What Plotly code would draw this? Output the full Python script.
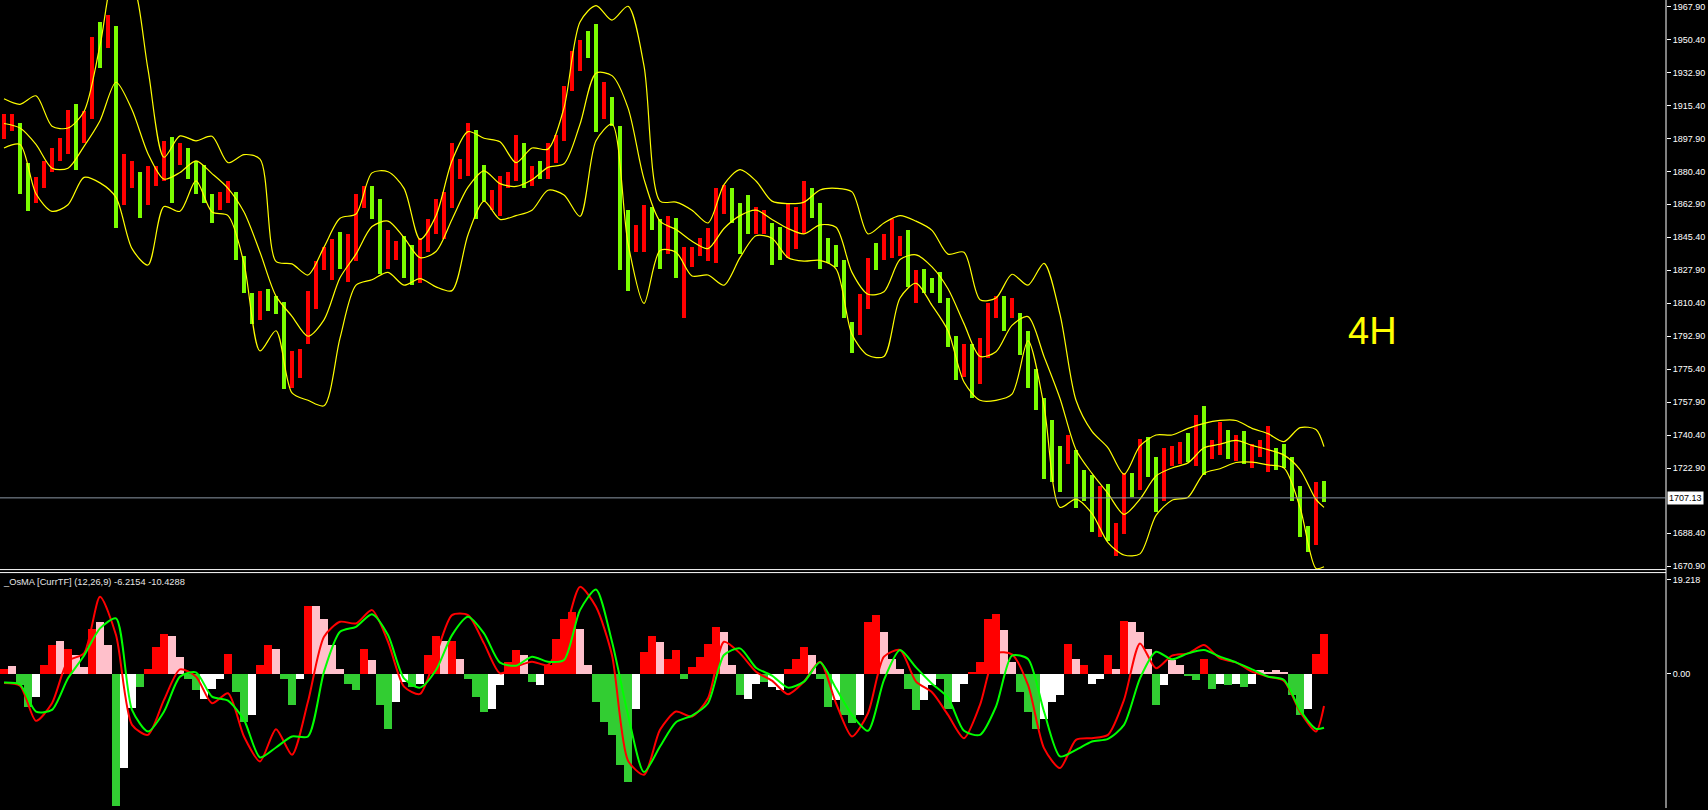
import plotly.graph_objects as go

# ---------------- price bars (each entry = one plotted bar) ----------------
bar_high = [
    1910.8, 1910.8, 1906.3, 1884.6, 1877.2, 1886.0, 1892.8, 1898.0, 1913.1, 1916.0,
    1912.2, 1951.9, 1959.7, 1963.6, 1957.8, 1889.8, 1886.0, 1880.2, 1883.1, 1883.1,
    1896.6, 1898.6, 1895.7, 1892.8, 1886.0, 1884.0, 1868.5, 1869.5, 1875.3, 1869.5,
    1835.5, 1816.1, 1817.1, 1818.1, 1814.2, 1811.3, 1785.1, 1786.1, 1817.1, 1832.6,
    1840.4, 1844.3, 1848.1, 1847.2, 1868.5, 1872.4, 1872.4, 1865.6, 1849.1, 1843.3,
    1846.2, 1841.3, 1845.2, 1854.9, 1865.6, 1869.5, 1895.7, 1887.0, 1906.3, 1902.5,
    1884.0, 1870.4, 1878.2, 1880.2, 1899.6, 1895.7, 1883.1, 1886.0, 1895.7, 1899.6,
    1925.7, 1944.2, 1950.0, 1954.9, 1958.7, 1927.7, 1919.9, 1904.4, 1859.8, 1852.0,
    1862.7, 1861.7, 1854.9, 1856.9, 1855.9, 1840.4, 1840.4, 1845.2, 1850.1, 1871.4,
    1873.4, 1871.4, 1863.7, 1867.6, 1861.7, 1859.8, 1853.0, 1851.1, 1863.7, 1861.7,
    1875.3, 1871.4, 1863.7, 1845.2, 1841.3, 1833.6, 1800.6, 1815.2, 1834.6, 1842.3,
    1847.2, 1854.9, 1846.2, 1849.1, 1827.8, 1828.8, 1823.9, 1826.8, 1813.2, 1792.9,
    1789.0, 1789.0, 1791.9, 1810.3, 1814.2, 1814.2, 1813.2, 1805.5, 1795.8, 1775.4,
    1759.9, 1748.2, 1734.6, 1740.5, 1732.7, 1722.0, 1719.1, 1713.3, 1714.3, 1693.9,
    1720.1, 1720.1, 1738.5, 1739.5, 1728.8, 1733.7, 1734.7, 1736.6, 1741.4, 1751.1,
    1756.0, 1737.6, 1747.3, 1743.4, 1740.5, 1742.4, 1735.6, 1737.6, 1745.3, 1733.7,
    1735.6, 1728.8, 1713.3, 1692.0, 1715.3, 1716.0,
]
bar_low = [
    1897.6, 1901.9, 1868.5, 1859.2, 1863.7, 1871.4, 1880.1, 1886.0, 1889.8, 1881.1,
    1895.7, 1908.3, 1935.4, 1946.1, 1850.1, 1862.7, 1871.4, 1855.9, 1862.7, 1872.4,
    1875.3, 1863.7, 1884.0, 1876.3, 1868.5, 1863.7, 1853.0, 1859.8, 1863.7, 1833.6,
    1816.1, 1799.6, 1801.6, 1806.4, 1804.5, 1764.7, 1765.7, 1770.5, 1789.0, 1807.4,
    1827.8, 1822.9, 1828.8, 1821.9, 1832.6, 1860.8, 1854.9, 1825.8, 1828.8, 1833.6,
    1823.9, 1820.0, 1821.0, 1837.5, 1847.2, 1844.3, 1860.8, 1876.3, 1878.2, 1854.9,
    1864.6, 1859.8, 1856.9, 1871.4, 1875.3, 1871.4, 1872.4, 1876.3, 1876.3, 1885.0,
    1896.6, 1922.8, 1933.5, 1940.3, 1901.5, 1908.3, 1904.4, 1827.8, 1817.1, 1837.5,
    1837.5, 1849.1, 1828.8, 1836.5, 1823.9, 1802.6, 1829.7, 1835.5, 1832.6, 1831.6,
    1857.8, 1853.0, 1836.5, 1847.2, 1847.2, 1847.2, 1830.7, 1833.6, 1834.6, 1839.4,
    1847.2, 1855.9, 1828.8, 1831.6, 1829.7, 1802.6, 1784.1, 1793.8, 1807.4, 1827.8,
    1833.6, 1834.6, 1835.5, 1819.0, 1810.3, 1816.1, 1816.1, 1810.3, 1787.0, 1769.6,
    1771.5, 1759.9, 1767.6, 1781.2, 1802.6, 1795.8, 1802.6, 1783.2, 1765.7, 1754.0,
    1717.2, 1715.3, 1710.4, 1725.0, 1701.7, 1705.6, 1689.1, 1686.2, 1684.2, 1676.5,
    1688.1, 1707.5, 1711.4, 1718.2, 1699.7, 1705.6, 1724.0, 1725.0, 1725.9, 1724.0,
    1719.1, 1727.9, 1729.8, 1727.9, 1726.9, 1725.0, 1723.0, 1728.8, 1721.1, 1722.0,
    1723.0, 1705.6, 1686.2, 1678.4, 1682.3, 1705.2,
]
# r = up bar (red), g = down bar (green)
bar_dir = ("rrggrrrrrg" "rrgrgrrgrr" "rgrggggrrg" "ggrgggrrrr" "rrgrrrggrr"
           "ggrrrrrrrg" "grrrrgrgrr" "rrrggrgggr" "rggrgrrrrr" "rgggrrggrr"
           "rggggggrrg" "rrrgrggggg" "rgrrrgrggg" "gggrgggrgr" "rgrggrrrgr"
           "grrgrgrrrg" "ggggrg")

# ---------------- Bollinger bands (read every second bar + last) ----------------
band_idx = list(range(0, 165, 2)) + [165]
bb_upper = [
    1918.9, 1916.0, 1920.5, 1904.4, 1903.4, 1912.2, 1947.1, 1986.9, 1981.0, 1934.5, 1887.9,
    1899.2, 1896.6, 1899.0, 1885.0, 1889.3, 1886.9, 1832.6, 1831.3, 1825.4, 1840.2,
    1855.5, 1857.8, 1879.6, 1880.2, 1871.4, 1844.3, 1856.9, 1886.0, 1901.5, 1898.0, 1896.1,
    1885.0, 1892.8, 1892.2, 1914.1, 1959.7, 1968.4, 1960.7, 1968.0, 1936.4, 1864.6,
    1864.1, 1859.8, 1853.0, 1873.4, 1881.3, 1875.3, 1864.6, 1863.3, 1864.1, 1870.5,
    1871.4, 1869.5, 1847.2, 1853.0, 1856.9, 1854.0, 1849.1, 1836.5, 1837.5, 1812.3,
    1813.2, 1825.8, 1820.0, 1831.6, 1804.5, 1758.9, 1742.4, 1733.7, 1719.7, 1734.7, 1740.5,
    1740.5, 1744.0, 1746.7, 1748.2, 1748.2, 1744.0, 1741.2, 1737.0, 1744.4, 1743.4,
    1734.3,
]
bb_mid = [
    1905.8, 1903.4, 1894.7, 1882.1, 1882.1, 1893.7, 1907.3, 1927.7, 1913.1, 1889.8, 1876.3,
    1879.8, 1886.0, 1879.2, 1871.4, 1858.8, 1837.5, 1814.2, 1803.5, 1792.9, 1801.6,
    1823.9, 1836.5, 1851.1, 1854.0, 1845.2, 1834.6, 1837.9, 1854.9, 1872.0, 1880.7, 1873.9,
    1872.4, 1875.9, 1882.5, 1884.4, 1905.4, 1932.5, 1931.2, 1914.1, 1876.3, 1854.0,
    1849.5, 1843.3, 1839.4, 1850.1, 1856.9, 1859.8, 1854.9, 1850.1, 1847.2, 1852.0,
    1850.7, 1826.8, 1815.2, 1816.5, 1833.6, 1836.1, 1829.7, 1818.1, 1799.6, 1782.2,
    1784.7, 1798.7, 1803.3, 1782.2, 1759.9, 1732.7, 1720.1, 1709.4, 1698.4, 1706.5, 1718.7,
    1723.0, 1725.7, 1733.7, 1735.6, 1737.6, 1735.0, 1732.7, 1729.8, 1722.1, 1706.3,
    1702.1,
]
bb_lower = [
    1892.8, 1894.7, 1868.5, 1859.2, 1862.7, 1877.2, 1874.3, 1866.6, 1839.4, 1830.7, 1861.7,
    1859.2, 1875.3, 1858.8, 1856.9, 1831.6, 1785.1, 1795.8, 1762.8, 1758.9, 1756.0,
    1791.9, 1820.0, 1822.9, 1826.8, 1820.0, 1823.5, 1819.1, 1817.1, 1846.8, 1864.6, 1854.9,
    1856.9, 1859.8, 1870.4, 1867.9, 1856.5, 1896.6, 1905.4, 1842.3, 1810.3, 1838.4,
    1837.5, 1824.9, 1825.4, 1820.0, 1834.6, 1846.2, 1844.9, 1834.6, 1832.8, 1833.2,
    1828.7, 1793.8, 1782.8, 1782.2, 1813.2, 1821.0, 1809.3, 1795.8, 1768.6, 1758.9,
    1758.9, 1762.2, 1790.5, 1756.0, 1702.1, 1706.5, 1698.8, 1683.4, 1676.8, 1677.4, 1697.8,
    1705.9, 1707.5, 1720.1, 1722.6, 1725.9, 1726.1, 1724.6, 1723.0, 1702.1, 1669.7,
    1670.6,
]

# ---------------- OsMA sub-window ----------------
osma_hist = [
    1.06, 1.58, -2.15, -6.34, -4.4, 1.7, 5.57, 6.5, 4.93, 3.64,
    1.39, 8.79, 10.07, 5.57, -25.5, -18.2, -6.6, -2.5, 1.06, 5.25,
    7.82, 7.5, 3.32, -0.87, -3.12, -4.7, -2.8, -0.87, 3.96, -3.44,
    -9.23, -7.94, 1.7, 5.57, 4.93, -0.87, -6.0, -0.87, 13.3, 13.3,
    10.7, 5.57, 1.06, -1.83, -3.12, 4.93, 2.67, -6.0, -10.5, -5.37,
    -1.5, -2.5, -1.83, 3.64, 7.5, 6.53, 6.53, 2.99, -1.0, -4.4,
    -7.3, -6.7, -2.15, 2.35, 4.6, 3.64, -1.5, -2.15, 1.7, 6.86,
    10.7, 12.0, 8.79, 1.7, -5.37, -9.23, -11.8, -17.6, -20.8, -6.7,
    4.28, 7.5, 6.2, 3.0, 4.6, -0.87, 1.4, 3.3, 5.9, 9.1,
    8.1, 1.7, -4.1, -4.7, -1.83, -1.5, -2.5, -3.1, 1.06, 3.0,
    5.25, 3.64, -0.87, -6.3, -5.05, -7.9, -9.5, -7.9, 10.1, 11.4,
    8.1, 3.0, 1.06, -2.8, -7.0, -5.05, -2.15, -0.87, -6.7, -5.37,
    -1.83, 0.4, 2.35, 10.7, 11.7, 8.5, 2.35, -3.4, -7.3, -10.5,
    -8.6, -5.37, -4.1, 5.9, 3.0, 1.7, -1.83, -0.87, 3.64, 1.06,
    10.4, 10.1, 8.1, 4.9, -6.0, -2.15, 2.7, 1.7, -0.2, -1.2,
    3.0, -2.8, -1.8, -2.15, -1.83, -2.5, -1.83, 0.75, 0.4, 0.75,
    0.4, -4.1, -7.9, -6.7, 4.0, 7.8,
]
# r = positive rising, p = positive falling, g = negative falling, w = negative rising
osma_code = ("rpggwrrprp" "prppgwwgrr" "rppggwwwrg" "gwrrpggwrp" "pppggrpggw"
             "wgwrrprpgg" "gwwrrpgwrr" "rrppgggggw" "rrprrgrrrr" "ppgwwgwwrr"
             "rpggwggwrr" "pppggwwggw" "wrrrrppggg" "wwwrprwwrp" "rpppgwppgg"
             "rgwgwgwppp" "pggwrr")
macd_line = [
    -1.77, -2.28, -9.1, -5.69, 2.48, 3.96, 14.9, 7.5, -9.87, -11.81, -5.05,
    0.87, -0.54, -5.69, -3.76, -12.13, -16.95, -10.71, -15.67, -5.37, 7.18,
    10.07, 9.75, 12.33, 6.21, -2.47, -3.89, 3.64, 11.36, 11.36, 5.89, 0.1,
    1.39, 2.35, 1.71, 7.5, 16.83, 12.97, 3.6, -16.8, -19.53, -10.84,
    -7.3, -8.27, -4.73, 6.21, 3.96, 0.42, -1.32, -3.95, -1.51, 2.35,
    -5.69, -12.13, -7.62, 3.32, 4.6, -1.51, -3.57, -7.94, -12.45, -6.01,
    3.96, 3.77, -2.15, -14.38, -18.24, -12.77, -12.45, -11.81, -5.05, 5.89, 1.06,
    3.51, 3.96, 5.57, 2.99, 2.22, 0.42, -0.54, -1.38, -7.3, -11.16,
    -6.22,
]
signal_line = [
    -1.7, -2.09, -7.3, -6.98, -0.87, 3.51, 8.79, 10.72, -6.98, -11.16, -7.3,
    -0.54, 0.29, -4.4, -5.18, -8.91, -16.18, -14.25, -12.13, -12.13, 0.42,
    8.14, 9.11, 11.55, 7.5, -0.87, -2.67, 0.74, 7.5, 11.04, 7.82, 2.16,
    1.58, 3.32, 2.35, 2.67, 12.33, 16.32, 6.2, -7.9, -19.01, -14.06,
    -9.36, -8.07, -5.69, 3.64, 4.93, 1.19, -0.35, -2.67, -1.51, 2.22,
    -2.8, -7.94, -11.03, -1.19, 4.6, 1.26, -1.9, -4.6, -11.03, -11.81,
    -6.34, 3.51, 2.87, -7.3, -15.99, -14.7, -13.09, -12.58, -9.87, -0.87, 4.28,
    2.8, 3.96, 4.6, 3.32, 2.22, 0.87, -0.54, -1.19, -6.98, -10.65,
    -10.43,
]

price_ticks = [1967.90, 1950.40, 1932.90, 1915.40, 1897.90, 1880.40, 1862.90, 1845.40,
               1827.90, 1810.40, 1792.90, 1775.40, 1757.90, 1740.40, 1722.90, 1688.40, 1670.90]
last_price = 1707.13
osma_max_label = "19.218"
osma_title = "_OsMA [CurrTF] (12,26,9) -6.2154 -10.4288"
timeframe_label = "4H"

# ---------------- figure ----------------
W, H = 1708, 810
R_MARGIN = 42
PRICE_BOTTOM_PX = 571
OSMA_TOP_PX = 574

bar_colors = {"r": "#FF0000", "g": "#7CFC00"}
hist_colors = {"r": "#FF0000", "p": "#FFC0CB", "g": "#32CD32", "w": "#FFFFFF"}

n = len(bar_high)
xs = list(range(n))
fig = go.Figure()

fig.add_trace(go.Bar(
    x=xs, y=[h - l for h, l in zip(bar_high, bar_low)], base=bar_low,
    width=0.5, marker=dict(color=[bar_colors[c] for c in bar_dir], line=dict(width=0)),
    xaxis="x", yaxis="y", hoverinfo="skip", showlegend=False))

for band in (bb_upper, bb_mid, bb_lower):
    fig.add_trace(go.Scatter(x=band_idx, y=band, mode="lines",
                             line=dict(color="#FFFF00", width=1.2, shape="spline", smoothing=0.8),
                             xaxis="x", yaxis="y", hoverinfo="skip", showlegend=False))

fig.add_trace(go.Bar(
    x=xs, y=osma_hist, width=1.0,
    marker=dict(color=[hist_colors[c] for c in osma_code], line=dict(width=0)),
    xaxis="x2", yaxis="y2", hoverinfo="skip", showlegend=False))
fig.add_trace(go.Scatter(x=band_idx, y=macd_line, mode="lines",
                         line=dict(color="#FF0000", width=2, shape="spline", smoothing=0.7),
                         xaxis="x2", yaxis="y2", hoverinfo="skip", showlegend=False))
fig.add_trace(go.Scatter(x=band_idx, y=signal_line, mode="lines",
                         line=dict(color="#00FF00", width=2, shape="spline", smoothing=0.7),
                         xaxis="x2", yaxis="y2", hoverinfo="skip", showlegend=False))

plot_w = W - R_MARGIN
bar_px = 8.0
x_range = [-0.5, plot_w / bar_px - 0.5]

# price scale: 1967.90 at 6.5 px, 1.889 px per unit
px_per_unit = 1.889
p_top = 1967.90 + 6.5 / px_per_unit
p_bot = 1967.90 - (PRICE_BOTTOM_PX - 6.5) / px_per_unit
# osma scale: zero at 675.5 px, 5.18 px per unit
o_px = 5.18
o_top = (675.5 - OSMA_TOP_PX) / o_px
o_bot = (675.5 - H) / o_px
o_label_val = (675.5 - 581) / o_px

tick_font = dict(family="Liberation Sans, Arial, sans-serif", size=9, color="#FFFFFF")
axis_common = dict(showgrid=False, zeroline=False, showline=False, ticks="outside",
                   ticklen=4, tickcolor="#FFFFFF", tickwidth=1, side="right",
                   tickfont=tick_font, fixedrange=True)

fig.update_layout(
    width=W, height=H,
    margin=dict(l=0, r=R_MARGIN, t=0, b=0),
    paper_bgcolor="#000000", plot_bgcolor="#000000",
    barmode="overlay", bargap=0, showlegend=False,
    xaxis=dict(domain=[0, 1], range=x_range, anchor="y", visible=False, fixedrange=True),
    xaxis2=dict(domain=[0, 1], range=x_range, anchor="y2", visible=False, matches="x",
                fixedrange=True),
    yaxis=dict(domain=[1 - PRICE_BOTTOM_PX / H, 1], range=[p_bot, p_top], anchor="x",
               tickvals=price_ticks, ticktext=[f"{v:.2f}" for v in price_ticks],
               **axis_common),
    yaxis2=dict(domain=[0, 1 - OSMA_TOP_PX / H], range=[o_bot, o_top], anchor="x2",
                tickvals=[o_label_val, 0], ticktext=[osma_max_label, "0.00"],
                **axis_common),
    shapes=[
        dict(type="line", xref="paper", yref="paper", x0=1, x1=1, y0=0, y1=1,
             line=dict(color="#FFFFFF", width=1)),
        dict(type="line", xref="paper", yref="paper", x0=0, x1=1,
             y0=1 - PRICE_BOTTOM_PX / H, y1=1 - PRICE_BOTTOM_PX / H,
             line=dict(color="#FFFFFF", width=1)),
        dict(type="line", xref="paper", yref="paper", x0=0, x1=1,
             y0=1 - OSMA_TOP_PX / H, y1=1 - OSMA_TOP_PX / H,
             line=dict(color="#FFFFFF", width=1)),
        dict(type="line", xref="paper", yref="y", x0=0, x1=1, y0=last_price, y1=last_price,
             line=dict(color="#8C96A5", width=1)),
    ],
    annotations=[
        dict(text=f"{last_price:.2f}", xref="paper", yref="y", x=1, y=last_price,
             xanchor="left", yanchor="middle", xshift=1, showarrow=False,
             bgcolor="#FFFFFF", borderpad=1,
             font=dict(family="Liberation Sans, Arial, sans-serif", size=9, color="#000000")),
        dict(text=osma_title, xref="paper", yref="paper", x=0, y=1 - 583.5 / H,
             xanchor="left", yanchor="middle", xshift=1, showarrow=False,
             font=dict(family="Liberation Sans, Arial, sans-serif", size=9.3, color="#E6E6E6")),
        dict(text=timeframe_label, xref="paper", yref="paper", x=1372 / plot_w, y=1 - 332 / H,
             xanchor="center", yanchor="middle", showarrow=False,
             font=dict(family="Liberation Sans, Arial, sans-serif", size=38, color="#FFFF00")),
    ],
)

fig.write_html(
    "out.html",
    config={"displayModeBar": False},
    post_script="document.body.style.margin='0';document.body.style.overflow='hidden';",
)
